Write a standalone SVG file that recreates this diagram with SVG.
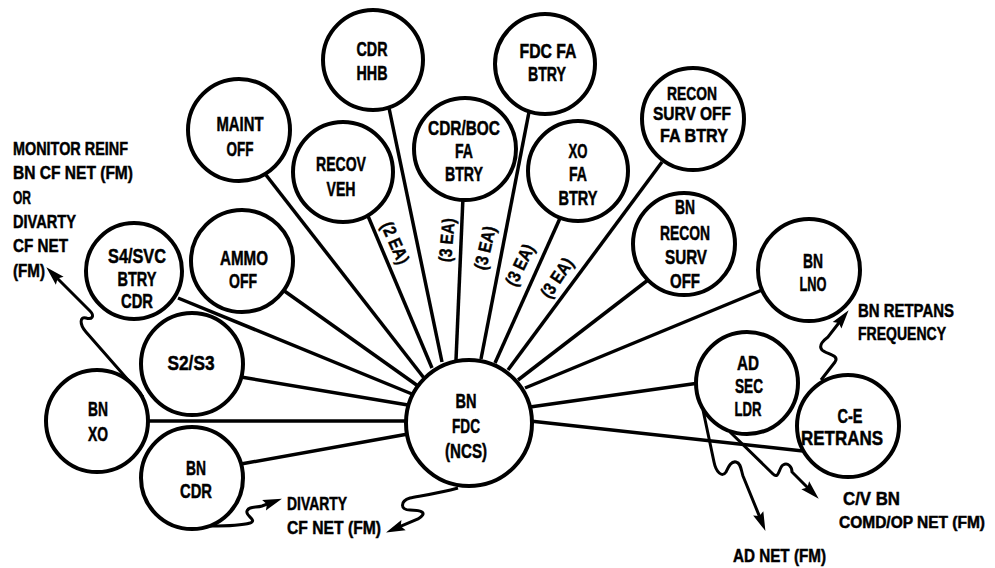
<svg xmlns="http://www.w3.org/2000/svg" width="995" height="568" viewBox="0 0 995 568">
<style>
.n{fill:#fff;stroke:#000;stroke-width:4}
.t{font-family:"Liberation Sans",Arial,sans-serif;font-weight:bold;font-size:21px;fill:#000;stroke:#000;stroke-width:0.5;text-anchor:middle}
.o{font-family:"Liberation Sans",Arial,sans-serif;font-weight:bold;font-size:19px;fill:#000;stroke:#000;stroke-width:0.5}
.s{stroke:#000;stroke-width:3.5;fill:none}
.a{stroke:#000;stroke-width:3;fill:none;marker-end:url(#ah)}
.ea{font-family:"Liberation Sans",Arial,sans-serif;font-weight:bold;font-size:18px;fill:#000;stroke:#000;stroke-width:0.4;text-anchor:middle}
</style>
<defs>
<marker id="ah" markerUnits="userSpaceOnUse" markerWidth="22" markerHeight="14" viewBox="-8 -7 22 14" refX="0" refY="0" orient="auto">
<path d="M13,0 L-6,-5.5 L-3,0 L-6,5.5 Z" fill="#000"/>
</marker>
</defs>
<g id="connectors">
<line class="s" x1="178" y1="298" x2="412" y2="394"/>
<line class="s" x1="283" y1="290" x2="418" y2="386"/>
<line class="s" x1="266" y1="175" x2="424" y2="378"/>
<line class="s" x1="368" y1="216" x2="432" y2="368"/>
<line class="s" x1="389" y1="108" x2="442" y2="362"/>
<line class="s" x1="463" y1="197" x2="456" y2="360"/>
<line class="s" x1="529" y1="112" x2="481" y2="359"/>
<line class="s" x1="561" y1="216" x2="495" y2="363"/>
<line class="s" x1="662" y1="162" x2="508" y2="370"/>
<line class="s" x1="648" y1="280" x2="518" y2="380"/>
<line class="s" x1="762" y1="290" x2="525" y2="388"/>
<line class="s" x1="699" y1="383" x2="530" y2="407"/>
<line class="s" x1="803" y1="451" x2="530" y2="421"/>
<line class="s" x1="241" y1="377" x2="408" y2="405"/>
<line class="s" x1="146" y1="421" x2="408" y2="421"/>
<line class="s" x1="241" y1="464" x2="408" y2="434"/>
</g>
<g id="hub"><circle class="n" cx="469" cy="423" r="63"/>
<text class="t" x="466" y="408" textLength="21" lengthAdjust="spacingAndGlyphs">BN</text><text class="t" x="466" y="433" textLength="28" lengthAdjust="spacingAndGlyphs">FDC</text><text class="t" x="466" y="458" textLength="42" lengthAdjust="spacingAndGlyphs">(NCS)</text></g>
<g id="cdr-hhb"><circle class="n" cx="373" cy="60" r="50"/>
<text class="t" x="372" y="56" textLength="31" lengthAdjust="spacingAndGlyphs">CDR</text><text class="t" x="372" y="80" textLength="31" lengthAdjust="spacingAndGlyphs">HHB</text></g>
<g id="fdc-fa-btry"><circle class="n" cx="545" cy="64" r="50"/>
<text class="t" x="548" y="58" textLength="57" lengthAdjust="spacingAndGlyphs">FDC  FA</text><text class="t" x="547" y="81" textLength="38" lengthAdjust="spacingAndGlyphs">BTRY</text></g>
<g id="cdr-boc"><circle class="n" cx="465" cy="149" r="51"/>
<text class="t" x="464" y="135" textLength="72" lengthAdjust="spacingAndGlyphs">CDR/BOC</text><text class="t" x="464" y="158" textLength="18" lengthAdjust="spacingAndGlyphs">FA</text><text class="t" x="464" y="181" textLength="38" lengthAdjust="spacingAndGlyphs">BTRY</text></g>
<g id="xo-fa-btry"><circle class="n" cx="578" cy="171" r="50"/>
<text class="t" x="578" y="158" textLength="19" lengthAdjust="spacingAndGlyphs">XO</text><text class="t" x="578" y="181" textLength="18" lengthAdjust="spacingAndGlyphs">FA</text><text class="t" x="578" y="205" textLength="39" lengthAdjust="spacingAndGlyphs">BTRY</text></g>
<g id="recov-veh"><circle class="n" cx="343" cy="172" r="50"/>
<text class="t" x="341" y="171" textLength="50" lengthAdjust="spacingAndGlyphs">RECOV</text><text class="t" x="341" y="196" textLength="29" lengthAdjust="spacingAndGlyphs">VEH</text></g>
<g id="maint-off"><circle class="n" cx="239" cy="130" r="51"/>
<text class="t" x="240" y="131" textLength="47" lengthAdjust="spacingAndGlyphs">MAINT</text><text class="t" x="240" y="156" textLength="27" lengthAdjust="spacingAndGlyphs">OFF</text></g>
<g id="ammo-off"><circle class="n" cx="242" cy="261" r="51"/>
<text class="t" x="244" y="265" textLength="48" lengthAdjust="spacingAndGlyphs">AMMO</text><text class="t" x="243" y="288" textLength="28" lengthAdjust="spacingAndGlyphs">OFF</text></g>
<g id="s4-svc"><circle class="n" cx="134" cy="271" r="48"/>
<text class="t" x="137" y="263" textLength="58" lengthAdjust="spacingAndGlyphs">S4/SVC</text><text class="t" x="137" y="286" textLength="39" lengthAdjust="spacingAndGlyphs">BTRY</text><text class="t" x="137" y="308" textLength="32" lengthAdjust="spacingAndGlyphs">CDR</text></g>
<g id="s2-s3"><circle class="n" cx="192" cy="364" r="51"/>
<text class="t" x="191" y="370" textLength="47" lengthAdjust="spacingAndGlyphs">S2/S3</text></g>
<g id="bn-xo"><circle class="n" cx="97" cy="421" r="51"/>
<text class="t" x="98" y="416" textLength="20" lengthAdjust="spacingAndGlyphs">BN</text><text class="t" x="98" y="441" textLength="20" lengthAdjust="spacingAndGlyphs">XO</text></g>
<g id="bn-cdr"><circle class="n" cx="192" cy="478" r="51"/>
<text class="t" x="196" y="475" textLength="20" lengthAdjust="spacingAndGlyphs">BN</text><text class="t" x="196" y="498" textLength="32" lengthAdjust="spacingAndGlyphs">CDR</text></g>
<g id="recon-surv-off-fa-btry"><circle class="n" cx="693" cy="119" r="51"/>
<text class="t" x="692" y="100" style="font-size:19px" textLength="50" lengthAdjust="spacingAndGlyphs">RECON</text><text class="t" x="692" y="120" style="font-size:19px" textLength="78" lengthAdjust="spacingAndGlyphs">SURV OFF</text><text class="t" x="694" y="142" style="font-size:19px" textLength="68" lengthAdjust="spacingAndGlyphs">FA  BTRY</text></g>
<g id="bn-recon-surv-off"><circle class="n" cx="684" cy="244" r="51"/>
<text class="t" x="685" y="214" textLength="20" lengthAdjust="spacingAndGlyphs">BN</text><text class="t" x="685" y="240" textLength="50" lengthAdjust="spacingAndGlyphs">RECON</text><text class="t" x="686" y="264" textLength="42" lengthAdjust="spacingAndGlyphs">SURV</text><text class="t" x="685" y="288" textLength="30" lengthAdjust="spacingAndGlyphs">OFF</text></g>
<g id="bn-lno"><circle class="n" cx="809" cy="270" r="51"/>
<text class="t" x="813" y="268" textLength="20" lengthAdjust="spacingAndGlyphs">BN</text><text class="t" x="813" y="291" textLength="27" lengthAdjust="spacingAndGlyphs">LNO</text></g>
<g id="ad-sec-ldr"><circle class="n" cx="747" cy="383" r="51"/>
<text class="t" x="748" y="370" textLength="22" lengthAdjust="spacingAndGlyphs">AD</text><text class="t" x="749" y="393" textLength="28" lengthAdjust="spacingAndGlyphs">SEC</text><text class="t" x="748" y="416" textLength="27" lengthAdjust="spacingAndGlyphs">LDR</text></g>
<g id="ce-retrans"><circle class="n" cx="848" cy="426" r="51"/>
<text class="t" x="850" y="423" textLength="25" lengthAdjust="spacingAndGlyphs">C-E</text><text class="t" x="842" y="445" textLength="82" lengthAdjust="spacingAndGlyphs">RETRANS</text></g>
<g id="arrows">
<path class="a" d="M143,397 L86,332 C79,324 80,316 86,318 C92,320 95,316 90,311 L55.5,276.5"/>
<path class="a" d="M458,488 C440,493 420,496 410,498 C400,501 400,510 410,510 C422,510 428,513 418,519 L398,527.4"/>
<path class="a" d="M210,526 C225,526 240,526 250,523 C258,520 245,516 247,511 C249,506 256,508 262,506 L269.7,503.2"/>
<path class="a" d="M703,410 L714,462 C716,472 722,478 726,472 C729,466 731,461 736,462 C741,463 741,470 743,476 L760.5,518.9"/>
<path class="a" d="M730,432 L773,474 C779,480 779,467 783,465 C788,462 792,467 792,472 L809.5,489.5"/>
<path class="a" d="M821,380 L835,362 C840,355 826,354 822,350 C818,345 824,340 828,337 L840.7,320.5"/>
</g>
<g id="labels">
<text class="o" x="13" y="155" textLength="115" lengthAdjust="spacingAndGlyphs">MONITOR REINF</text>
<text class="o" x="13" y="179" textLength="120" lengthAdjust="spacingAndGlyphs">BN CF NET (FM)</text>
<text class="o" x="13" y="204" textLength="18" lengthAdjust="spacingAndGlyphs">OR</text>
<text class="o" x="13" y="228" textLength="63" lengthAdjust="spacingAndGlyphs">DIVARTY</text>
<text class="o" x="13" y="252" textLength="55" lengthAdjust="spacingAndGlyphs">CF NET</text>
<text class="o" x="13" y="277" textLength="32" lengthAdjust="spacingAndGlyphs">(FM)</text>
<text class="o" x="858" y="317" textLength="96" lengthAdjust="spacingAndGlyphs">BN RETPANS</text>
<text class="o" x="858" y="340" textLength="88" lengthAdjust="spacingAndGlyphs">FREQUENCY</text>
<text class="o" x="843" y="505" textLength="57" lengthAdjust="spacingAndGlyphs">C/V BN</text>
<text class="o" x="839" y="528" style="font-size:16px" textLength="146" lengthAdjust="spacingAndGlyphs">COMD/OP NET (FM)</text>
<text class="o" x="733" y="562" textLength="93" lengthAdjust="spacingAndGlyphs">AD NET (FM)</text>
<text class="o" x="287" y="510" textLength="60" lengthAdjust="spacingAndGlyphs">DIVARTY</text>
<text class="o" x="287" y="534" textLength="94" lengthAdjust="spacingAndGlyphs">CF NET (FM)</text>
<text class="ea" transform="translate(395,243) rotate(66)" x="0" y="6" textLength="44" lengthAdjust="spacingAndGlyphs">(2 EA)</text>
<text class="ea" transform="translate(447,240) rotate(-85)" x="0" y="6" textLength="44" lengthAdjust="spacingAndGlyphs">(3 EA)</text>
<text class="ea" transform="translate(485,248) rotate(-77)" x="0" y="6" textLength="44" lengthAdjust="spacingAndGlyphs">(3 EA)</text>
<text class="ea" transform="translate(520,265) rotate(-64)" x="0" y="6" textLength="44" lengthAdjust="spacingAndGlyphs">(3 EA)</text>
<text class="ea" transform="translate(557,278) rotate(-56)" x="0" y="6" textLength="44" lengthAdjust="spacingAndGlyphs">(3 EA)</text>
</g>
</svg>
